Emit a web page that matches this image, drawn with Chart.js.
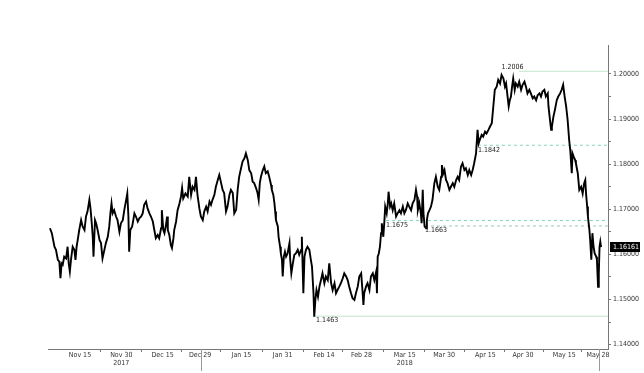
<!DOCTYPE html>
<html lang="en">
<head>
    <meta charset="UTF-8">
    <title>EURUSD</title>
    <script src="https://cdn.jsdelivr.net/npm/chart.js"></script>
    <style>
        body { margin: 0; background: #fff; }
        canvas { display: block; }
    </style>
</head>
<body>
    <canvas id="chartPrecio" width="644" height="373"></canvas>

    <script>
        // x = trading day counted from Nov 15 2017, y = price
        const days = [
            -8.0, -7.5, -6.8, -6.4, -5.9, -5.5, -5.2, -4.9, -4.6, -4.2, -3.7, -3.3, -3.0, -2.7, -2.4, -1.95, -1.5, -1.2, -0.9, -0.6, -0.2,
            0.3, 0.7, 1.2, 1.6, 2.0, 2.5, 2.8, 3.1, 3.4, 3.6, 4.0, 4.3, 4.7, 5.2, 5.6, 6.0, 6.5, 6.9, 7.4, 7.8, 8.1, 8.4, 8.7, 9.1, 9.6,
            10.0, 10.5, 10.9, 11.4, 11.8, 12.3, 12.6, 12.9, 13.1, 13.4, 13.9, 14.2, 14.5, 14.9, 15.4, 15.8, 16.3, 16.7, 17.1, 17.6, 18.0,
            18.5, 18.9, 19.4, 19.8, 20.2, 20.7, 21.1, 21.6, 21.8, 22.2, 22.5, 22.9, 23.2, 23.4, 23.8, 24.2, 24.5, 24.9, 25.1, 25.6, 26.0,
            26.5, 26.9, 27.2, 27.5, 28.1, 28.7,
            29.1, 29.6, 30.0, 30.5, 30.9, 31.3, 31.8, 32.2, 32.7, 33.1, 33.6, 34.0, 34.5, 34.9, 35.3, 35.8, 36.2, 36.7, 37.1, 37.6, 38.0,
            38.4, 38.9, 39.3, 39.8, 40.2, 40.7, 41.1, 41.6, 42.0, 42.4, 42.9, 43.3, 43.8, 44.2, 44.7, 45.1, 45.6, 46.0, 46.4, 46.9, 47.3,
            47.6, 47.9, 48.2, 48.7, 49.1, 49.5, 50.0, 50.4, 50.9, 51.1, 51.5, 51.8, 52.0, 52.2, 52.7, 52.9, 53.3, 53.5, 53.8, 54.0, 54.3,
            54.6, 54.9, 55.3, 55.8, 56.0, 56.3, 56.7, 57.1, 57.5, 58.0, 58.4, 58.9, 59.1, 59.5, 59.8, 60.2, 60.6, 61.1, 61.5, 61.8, 62.2,
            62.4, 62.7, 63.0, 63.4, 63.8, 64.2, 64.6, 65.1, 65.5,
            66.0, 66.4, 66.9, 67.3, 67.8, 68.2, 68.6, 69.1, 69.5, 70.0, 70.4, 70.9, 71.3, 71.7, 72.2, 72.6, 73.1, 73.5, 74.0, 74.4, 74.9,
            75.3, 75.5, 75.7, 76.2, 76.6, 77.1, 77.5, 78.0, 78.4, 78.9, 79.1, 79.3, 79.6, 79.9, 80.2, 80.4, 80.8, 81.1, 81.3, 81.7, 82.0,
            82.2, 82.6, 82.9, 83.3, 83.7, 84.2, 84.6, 85.1, 85.5, 86.0, 86.4, 86.8, 87.3, 87.7, 88.2, 88.6, 89.1, 89.5, 89.8, 90.0, 90.4,
            90.8, 91.0, 91.3, 91.5, 91.8, 92.2, 92.4, 92.7, 93.1, 93.5, 93.9, 94.4, 94.8, 95.3, 95.7, 96.2, 96.4, 96.8, 97.1, 97.5, 97.9,
            98.4, 98.8, 99.3, 99.7, 100.2, 100.6, 101.0, 101.5, 101.9, 102.4, 102.8, 103.3,
            103.7, 104.2, 104.6, 105.0, 105.5, 105.9, 106.2, 106.5, 107.0, 107.4, 107.9, 108.3, 108.8, 109.2, 109.7, 110.1, 110.5, 111.0,
            111.4, 111.9, 112.3, 112.8, 113.2, 113.5, 113.9, 114.2, 114.5, 114.8, 115.1, 115.4, 115.8, 116.1, 116.6, 117.0, 117.5, 117.9,
            118.4, 118.8, 119.2, 119.7, 120.1, 120.6, 121.0, 121.5, 121.9, 122.4, 122.8, 123.2, 123.7, 124.1, 124.6, 124.8, 125.2, 125.5,
            125.7, 126.1, 126.5, 127.0, 127.4, 127.9, 128.3, 128.7, 129.1, 129.5, 129.9, 130.3, 130.6, 131.0, 131.2, 131.5, 131.9, 132.1,
            132.6, 133.0, 133.5, 133.9, 134.3, 134.6, 134.8, 135.1, 135.3, 135.7, 135.9, 136.2, 136.5, 136.8, 137.1, 137.5, 137.7, 138.0,
            138.2, 138.4, 138.6, 138.8
        ];
        const prices = [
            1.1658, 1.1647, 1.1617, 1.1610, 1.1588, 1.1584, 1.1547, 1.1580, 1.1577, 1.1595, 1.1591, 1.1617, 1.1580, 1.1562, 1.1588, 1.1617, 1.1610, 1.1588, 1.1617, 1.1632, 1.1654,
            1.1676, 1.1662, 1.1654, 1.1684, 1.1695, 1.1721, 1.1702, 1.1673, 1.1639, 1.1595, 1.1676, 1.1669, 1.1654, 1.1632, 1.1625, 1.1591, 1.1610, 1.1625, 1.1639, 1.1662, 1.1691, 1.1713, 1.1691, 1.1698, 1.1684,
            1.1676, 1.1650, 1.1669, 1.1676, 1.1698, 1.1721, 1.1735, 1.1684, 1.1606, 1.1654, 1.1662, 1.1676, 1.1691, 1.1684, 1.1673, 1.1680, 1.1684, 1.1691, 1.1710, 1.1717, 1.1702,
            1.1691, 1.1684, 1.1673, 1.1654, 1.1636, 1.1643, 1.1636, 1.1658, 1.1698, 1.1654, 1.1647, 1.1665, 1.1684, 1.1654, 1.1643, 1.1621, 1.1614, 1.1636, 1.1654, 1.1673, 1.1698,
            1.1713, 1.1728, 1.1747, 1.1724, 1.1735, 1.1728,
            1.1772, 1.1732, 1.1750, 1.1743, 1.1772, 1.1732, 1.1702, 1.1684, 1.1676, 1.1695, 1.1706, 1.1695, 1.1717, 1.1710, 1.1721, 1.1732, 1.1750, 1.1765, 1.1776, 1.1758, 1.1743,
            1.1736, 1.1695, 1.1706, 1.1732, 1.1743, 1.1736, 1.1691, 1.1699, 1.1743, 1.1772, 1.1791, 1.1806, 1.1813, 1.1824, 1.1809, 1.1787, 1.1780, 1.1761, 1.1758, 1.1747, 1.1736,
            1.1721, 1.1758, 1.1772, 1.1787, 1.1795, 1.1780, 1.1784, 1.1772, 1.1754, 1.1743, 1.1732, 1.1713, 1.1695, 1.1676, 1.1662, 1.1639, 1.1617, 1.1602, 1.1588, 1.1551, 1.1595,
            1.1606, 1.1595, 1.1602, 1.1625, 1.1588, 1.1558, 1.1580, 1.1599, 1.1602, 1.1610, 1.1599, 1.1610, 1.1639, 1.1514, 1.1595, 1.1610, 1.1617, 1.1610, 1.1588, 1.1573, 1.1514,
            1.1462, 1.1499, 1.1521, 1.1506, 1.1529, 1.1543, 1.1558, 1.1536, 1.1551,
            1.1543, 1.1580, 1.1536, 1.1521, 1.1536, 1.1514, 1.1521, 1.1529, 1.1536, 1.1547, 1.1558, 1.1551, 1.1543, 1.1529, 1.1514, 1.1503, 1.1499, 1.1514, 1.1529, 1.1551, 1.1558,
            1.1514, 1.1488, 1.1514, 1.1529, 1.1536, 1.1521, 1.1551, 1.1558, 1.1543, 1.1562, 1.1514, 1.1595, 1.1602, 1.1617, 1.1647, 1.1669, 1.1639, 1.1676, 1.1706, 1.1691, 1.1713,
            1.1739, 1.1706, 1.1713, 1.1698, 1.1713, 1.1684, 1.1691, 1.1698, 1.1691, 1.1706, 1.1691, 1.1698, 1.1713, 1.1706, 1.1698, 1.1713, 1.1721, 1.1743, 1.1728, 1.1698, 1.1713,
            1.1691, 1.1669, 1.1743, 1.1691, 1.1662, 1.1658, 1.1676, 1.1691, 1.1698, 1.1706, 1.1721, 1.1758, 1.1772, 1.1750, 1.1743, 1.1772, 1.1798, 1.1780, 1.1787, 1.1765, 1.1758,
            1.1743, 1.1750, 1.1758, 1.1750, 1.1765, 1.1772, 1.1765, 1.1795, 1.1802, 1.1787, 1.1791, 1.1776,
            1.1787, 1.1776, 1.1787, 1.1802, 1.1824, 1.1876, 1.1846, 1.1854, 1.1865, 1.1861, 1.1872, 1.1868, 1.1876, 1.1883, 1.1891, 1.1928, 1.1965, 1.1972,
            1.1987, 1.1979, 1.1998, 1.1990, 1.1972, 1.1979, 1.1950, 1.1928, 1.1942, 1.1950, 1.1972, 1.1990, 1.1965, 1.1979, 1.1972, 1.1983, 1.1965, 1.1976,
            1.1983, 1.1972, 1.1957, 1.1965, 1.1957, 1.1946, 1.1950, 1.1942, 1.1953, 1.1957, 1.1950, 1.1961, 1.1965, 1.1950, 1.1957, 1.1928, 1.1898, 1.1876,
            1.1883, 1.1905, 1.1920, 1.1942, 1.1950, 1.1957, 1.1965, 1.1976, 1.1950, 1.1928, 1.1898, 1.1854, 1.1831, 1.1780, 1.1824, 1.1817, 1.1809, 1.1802,
            1.1780, 1.1743, 1.1750, 1.1735, 1.1758, 1.1765, 1.1735, 1.1706, 1.1684, 1.1654, 1.1632, 1.1588, 1.1647, 1.1617, 1.1602, 1.1595, 1.1588, 1.1528,
            1.1558, 1.1617, 1.1628, 1.16161
        ];

        // horizontal levels
        const levelValues = [1.2006, 1.1842, 1.1675, 1.1663, 1.1463];
        const levelLabelDays = [112.3, 106.0, 81.5, 91.9, 62.9];
        const levelLineDays = [116.9, 106.0, 81.5, 91.9, 62.1];
        const levelDashed = [false, true, true, true, false];

        // axis ticks
        const xTickDays = [0, 11, 22, 32, 43, 54, 65, 75, 86.5, 97, 108, 118, 129, 138];
        const xTickLabels = [['Nov 15'], ['Nov 30', '2017'], ['Dec 15'], ['Dec 29'], ['Jan 15'], ['Jan 31'], ['Feb 14'],
                             ['Feb 28'], ['Mar 15', '2018'], ['Mar 30'], ['Apr 15'], ['Apr 30'], ['May 15'], ['May 28']];
        const xSeparatorDays = [32.3, 138.2];
        const yMajorTicks = [1.14, 1.15, 1.16, 1.17, 1.18, 1.19, 1.20];
        const yMinorTicks = [1.145, 1.155, 1.165, 1.175, 1.185, 1.195];

        const fuente = "'Liberation Sans Narrow', 'Arial Narrow', 'DejaVu Sans Condensed', sans-serif";
        const X_MIN = -8.52, X_MAX = 140.65;

        const serie = days.map((d, i) => ({ x: d, y: prices[i] }));
        const niveles = levelValues.map((v, i) => ({
            data: [{ x: levelLineDays[i], y: v }, { x: X_MAX, y: v }],
            borderColor: levelDashed[i] ? '#8fcfb4' : '#c3e6cc',
            borderWidth: 1,
            borderDash: levelDashed[i] ? [3, 3] : [],
            pointRadius: 0,
            order: 2
        }));

        const extras = {
            id: 'extras',
            afterDatasetsDraw(chart) {
                const ctx = chart.ctx;
                const xs = chart.scales.x, ys = chart.scales.y;
                const area = chart.chartArea;
                ctx.save();
                ctx.font = "7px " + fuente;
                ctx.fillStyle = '#222';
                ctx.textAlign = 'left';
                levelValues.forEach((v, i) => {
                    const px = xs.getPixelForValue(levelLabelDays[i]);
                    const py = ys.getPixelForValue(v);
                    if (i === 0) {
                        ctx.textBaseline = 'bottom';
                        ctx.fillText(v.toFixed(4), px, py - 1);
                    } else {
                        ctx.textBaseline = 'top';
                        ctx.fillText(v.toFixed(4), px, py + 1);
                    }
                });
                // separators under the axis
                ctx.strokeStyle = '#999';
                ctx.lineWidth = 1;
                xSeparatorDays.forEach(d => {
                    const px = Math.round(xs.getPixelForValue(d)) + 0.5;
                    ctx.beginPath();
                    ctx.moveTo(px, area.bottom);
                    ctx.lineTo(px, area.bottom + 22);
                    ctx.stroke();
                });
                // last price box
                const ultimo = prices[prices.length - 1];
                const py = Math.round(ys.getPixelForValue(ultimo));
                ctx.fillStyle = '#000';
                ctx.fillRect(area.right + 2, py - 5, 30, 10);
                ctx.fillStyle = '#fff';
                ctx.textBaseline = 'middle';
                ctx.fillText(ultimo.toFixed(5), area.right + 5, py + 0.5);
                ctx.restore();
            }
        };

        new Chart(document.getElementById('chartPrecio').getContext('2d'), {
            type: 'line',
            data: {
                datasets: [{
                    data: serie,
                    borderColor: '#000',
                    borderWidth: 1.9,
                    pointRadius: 0,
                    tension: 0,
                    order: 1
                }, ...niveles]
            },
            options: {
                responsive: false,
                animation: false,
                devicePixelRatio: 1,
                layout: { padding: { left: 48, top: 45, right: 0, bottom: 0 } },
                plugins: { legend: { display: false }, tooltip: { enabled: false } },
                scales: {
                    x: {
                        type: 'linear',
                        min: X_MIN,
                        max: X_MAX,
                        afterBuildTicks(axis) {
                            const mids = [];
                            for (let i = 0; i < xTickDays.length - 1; i++) {
                                mids.push((xTickDays[i] + xTickDays[i + 1]) / 2);
                            }
                            axis.ticks = xTickDays.concat(mids).sort((a, b) => a - b).map(v => ({ value: v }));
                        },
                        afterFit(axis) { axis.height = 24; },
                        ticks: {
                            autoSkip: false,
                            maxRotation: 0,
                            padding: 0,
                            color: '#333',
                            font: { family: fuente, size: 7, lineHeight: 1.05 },
                            callback(value) {
                                const i = xTickDays.indexOf(value);
                                return i >= 0 ? xTickLabels[i] : '';
                            }
                        },
                        grid: {
                            drawOnChartArea: false,
                            tickLength: 3,
                            tickColor: c => (c.tick && xTickDays.indexOf(c.tick.value) >= 0) ? 'rgba(0,0,0,0)' : '#777'
                        },
                        border: { color: '#777' }
                    },
                    y: {
                        type: 'linear',
                        position: 'right',
                        min: 1.13902,
                        max: 1.20643,
                        afterBuildTicks(axis) {
                            axis.ticks = yMajorTicks.concat(yMinorTicks).sort((a, b) => a - b).map(v => ({ value: v }));
                        },
                        afterFit(axis) { axis.width = 36; },
                        ticks: {
                            padding: 2,
                            color: '#333',
                            font: { family: fuente, size: 7 },
                            callback(value) {
                                return yMajorTicks.some(t => Math.abs(t - value) < 1e-9) ? value.toFixed(5) : '';
                            }
                        },
                        grid: { drawOnChartArea: false, tickLength: 3, tickColor: '#777' },
                        border: { color: '#777' }
                    }
                }
            },
            plugins: [extras]
        });
    </script>
</body>
</html>
